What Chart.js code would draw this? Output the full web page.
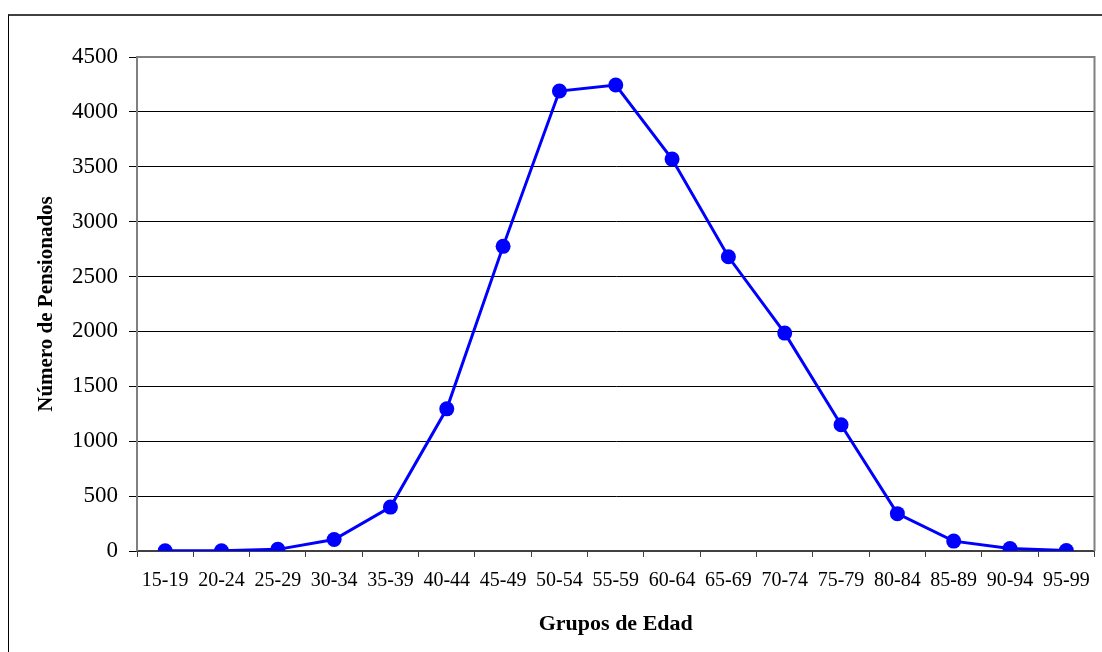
<!DOCTYPE html>
<html>
<head>
<meta charset="utf-8">
<script src="https://cdn.jsdelivr.net/npm/chart.js@4"></script>
<style>
  html, body { margin: 0; padding: 0; background: #fff; overflow: hidden; }
  #frame { position: absolute; left: 8px; top: 14px; width: 1200px; height: 800px;
           border-left: 1px solid #000; border-top: 2px solid #404040; }
  #wrap { position: absolute; left: 0; top: 0; width: 1102px; height: 652px; }
</style>
</head>
<body>
<div id="frame"></div>
<div id="wrap"><canvas id="chart" width="1102" height="652"></canvas></div>
<script>
const grupos = ["15-19", "20-24", "25-29", "30-34", "35-39", "40-44", "45-49", "50-54", "55-59",
                "60-64", "65-69", "70-74", "75-79", "80-84", "85-89", "90-94", "95-99"];
const pensionados = [2, 2, 15, 105, 400, 1295, 2775, 4190, 4245, 3570, 2680, 1985, 1150, 340, 90, 22, 4];
const yTicks = [0, 500, 1000, 1500, 2000, 2500, 3000, 3500, 4000, 4500];

const serif = "'Liberation Serif', 'Times New Roman', serif";

// gray border round the plot area
const plotBorder = {
    id: "plotBorder",
    afterDraw(chart) {
        const a = chart.chartArea;
        const ctx = chart.ctx;
        ctx.save();
        ctx.strokeStyle = "#808080";
        ctx.lineWidth = 2;
        ctx.beginPath();
        ctx.moveTo(a.left, a.bottom);
        ctx.lineTo(a.left, a.top);
        ctx.lineTo(a.right, a.top);
        ctx.lineTo(a.right, a.bottom);
        ctx.stroke();
        ctx.restore();
    }
};

new Chart(document.getElementById("chart"), {
    type: "line",
    data: {
        labels: grupos,
        datasets: [{
            data: pensionados,
            borderColor: "#0000ff",
            backgroundColor: "#0000ff",
            borderWidth: 3,
            pointRadius: 7.5,
            pointHoverRadius: 7.5,
            pointBorderWidth: 0,
            tension: 0
        }]
    },
    options: {
        animation: false,
        responsive: false,
        events: [],
        layout: { padding: { left: 34, top: 57, right: 7, bottom: 14 } },
        plugins: { legend: { display: false }, tooltip: { enabled: false } },
        scales: {
            x: {
                offset: true,
                afterFit: s => { s.height = 652 - 551 - 14; },
                grid: { offset: true, drawOnChartArea: false, color: "#404040", tickLength: 6 },
                border: { color: "#404040", width: 2 },
                ticks: { color: "#000", padding: 12, maxRotation: 0, autoSkip: false,
                         font: { family: serif, size: 20 } },
                title: { display: true, text: "Grupos de Edad", color: "#000",
                         padding: { top: 0, bottom: 0 },
                         font: { family: serif, size: 22, weight: "bold" } }
            },
            y: {
                min: 0,
                max: 4500,
                afterFit: s => { s.width = 137 - 34; },
                afterBuildTicks: s => { s.ticks = yTicks.map(v => ({ value: v })); },
                grid: { color: "#000", lineWidth: 1, tickLength: 8 },
                border: { color: "#404040", width: 2 },
                ticks: { color: "#000", padding: 11, font: { family: serif, size: 23 },
                         callback: v => String(v) },
                title: { display: true, text: "Número de Pensionados", color: "#000",
                         padding: { top: 0, bottom: 0 },
                         font: { family: serif, size: 21, weight: "bold" } }
            }
        }
    },
    plugins: [plotBorder]
});
</script>
</body>
</html>
